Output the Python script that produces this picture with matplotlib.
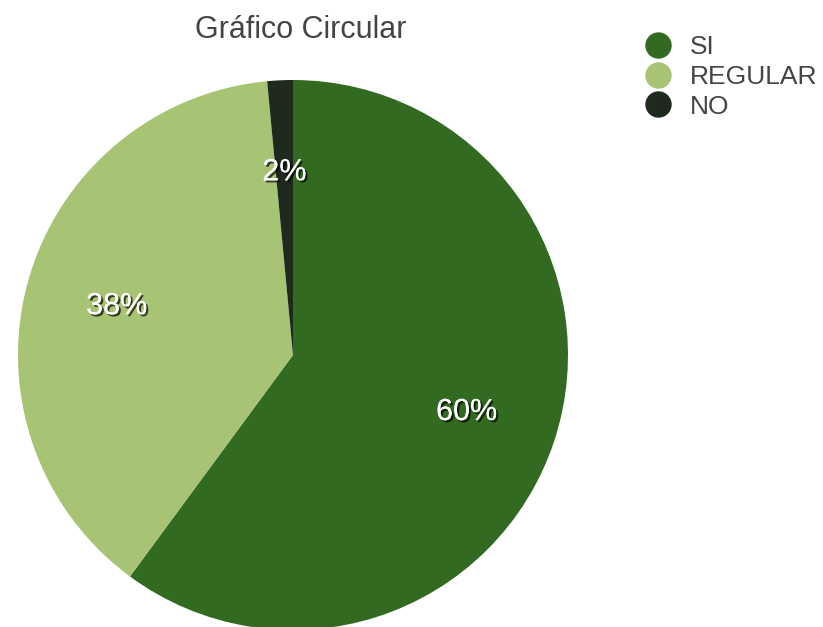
import matplotlib
matplotlib.use('Agg')
import matplotlib.pyplot as plt
import matplotlib.patheffects as pe
from matplotlib.lines import Line2D

plt.rcParams['font.family'] = ['Liberation Sans', 'DejaVu Sans']

# data
labels = ['SI', 'REGULAR', 'NO']
values = [60.1, 38.4, 1.5]
colors = ['#336a22', '#a7c374', '#1f2a1e']

fig = plt.figure(figsize=(8.23, 6.27), dpi=100)
ax = fig.add_axes([18 / 823, -3 / 627, 550 / 823, 550 / 627])

wedges, texts, autotexts = ax.pie(values, colors=colors, startangle=90, counterclock=False,
                                  autopct='%.0f%%', pctdistance=0.665,
                                  wedgeprops={'linewidth': 0},
                                  textprops={'color': 'white', 'fontsize': 22})
for t in autotexts:
    t.set_path_effects([pe.withSimplePatchShadow(offset=(1.5, -1.5), shadow_rgbFace='black', alpha=0.7),
                        pe.Normal()])
ax.set_xlim(-1, 1)
ax.set_ylim(-1, 1)
ax.set_aspect('equal')
ax.axis('off')

fig.text(301 / 823, 1 - 30 / 627, 'Gráfico Circular', ha='center', va='center',
         fontsize=22, color='#444444')

handles = [Line2D([], [], linestyle='none', marker='o', markersize=18,
                  markerfacecolor=c, markeredgecolor=c) for c in colors]
fig.legend(handles, labels, loc='upper left', bbox_to_anchor=(645 / 823, 1 - 35 / 627),
           frameon=False, fontsize=19, labelcolor='#444444', handlelength=1.0,
           handletextpad=0.7, labelspacing=0.22, borderpad=0, borderaxespad=0)

fig.savefig('out.png', dpi=100)
